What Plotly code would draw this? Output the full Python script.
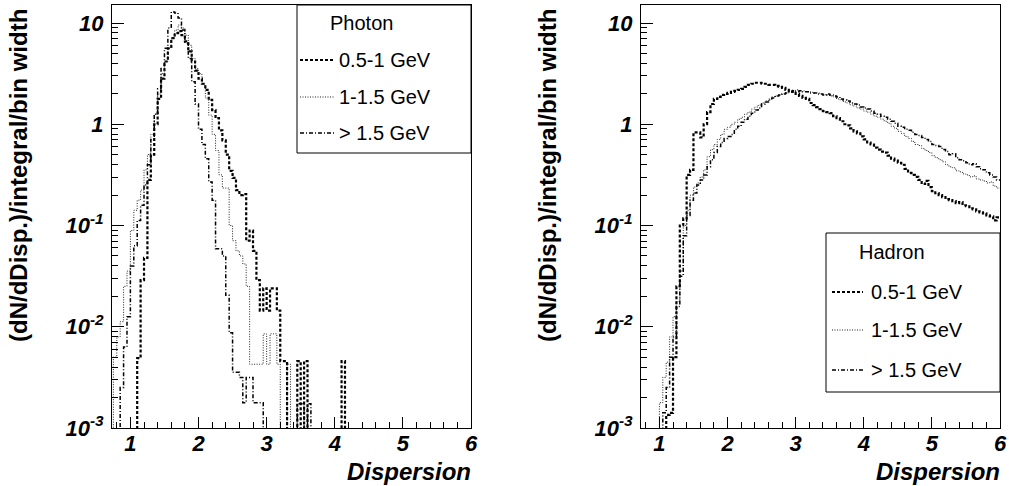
import numpy as np
import plotly.graph_objects as go

# ---------------- data ----------------
# Histograms with 0.05-wide bins; first bin low edge at 0.70.
# Values are log10(dN/dDisp./integral/bin width) per bin; None = empty bin.
bin_width = 0.05
first_edge = 0.70

series_names = ["0.5-1 GeV", "1-1.5 GeV", "> 1.5 GeV"]

photon_05_1_log = [
    None, None, None, None, None, None, None, None,
    -2.31, -1.54, -1.32, -0.55, -0.30, 0.00, 0.25, 0.45, 0.62, 0.75, 0.85, 0.90,
    0.92, 0.88, 0.82, 0.72, 0.62, 0.53, 0.45, 0.40, 0.34, 0.24, 0.14, 0.06,
    -0.06, -0.16, -0.30, -0.46, -0.53, -0.65, -0.70, -0.69, -1.15, -1.05, -1.25, -1.54,
    -1.84, -1.62, -1.84, -1.62, -1.62, -1.84, -2.34, -2.34,
    None, None, None, -2.34, None, -2.34, None, None, None, None, None, None, None, None,
    None, None, -2.34, None,
]
photon_1_15_log = [
    None, -2.30, -2.10, -1.95, -1.60, -1.45, -1.05, -0.85, -0.75, -0.65,
    -0.45, -0.30, -0.10, 0.10, 0.30, 0.50, 0.62, 0.75, 0.85, 0.93,
    0.98, 0.95, 0.88, 0.78, 0.65, 0.55, 0.50, 0.39, 0.26, 0.09,
    -0.10, -0.26, -0.50, -0.63, -0.63, -1.00, -1.15, -1.25, -1.30, -1.38,
    -1.60, -2.37, -2.37, -2.37, -2.37, -2.07, -2.37, -2.07, -2.07, -2.37,
    None, None, -2.37, None, None, None, None, None, None, None,
    None, None, None, None, None, None, None, None, None, None,
]
photon_15_log = [
    None, None, None, -2.60, -2.20, -1.90, -1.40, -1.20, -0.95, -0.80,
    -0.60, -0.40, -0.15, 0.10, 0.35, 0.55, 0.75, 0.95, 1.11, 1.10,
    1.05, 0.93, 0.80, 0.65, 0.42, 0.20, -0.05, -0.20, -0.34, -0.57,
    -0.75, -1.23, -1.23, -1.30, -1.69, -2.06, -2.45, -2.45, -2.50, -2.75,
    -2.50, -2.50, -2.75, -2.75, -2.75,
    None, None, None, None, None, None, None, None, None, None,
    -2.76, -2.76, None, -2.76,
    None, None, None, None, None, None, None, None, None, None, None,
]

hadron_05_1_log = [
    None, None, None, None, None, None, None, None,
    -2.87, -2.85, -2.30, -1.60, -1.00, -0.93, -0.50, -0.45, -0.08, -0.08, -0.13, 0.00,
    0.12, 0.20, 0.25, 0.27, 0.29, 0.30,
    0.31, 0.32, 0.33, 0.34, 0.35, 0.37, 0.39, 0.40, 0.41, 0.41,
    0.40, 0.40, 0.39, 0.39, 0.38, 0.37, 0.36, 0.34, 0.33, 0.32,
    0.30, 0.28, 0.26, 0.25, 0.21, 0.19, 0.17, 0.15, 0.13, 0.12,
    0.11, 0.08, 0.06, 0.03, 0.00, -0.01, -0.04, -0.07, -0.09, -0.12,
    -0.15, -0.18, -0.20, -0.23, -0.25, -0.27, -0.28, -0.31, -0.34, -0.36,
    -0.38, -0.40, -0.44, -0.48, -0.50, -0.52, -0.55, -0.59, -0.56, -0.62,
    -0.66, -0.68, -0.70, -0.72, -0.74, -0.75, -0.76, -0.78, -0.77, -0.80,
    -0.81, -0.83, -0.84, -0.86, -0.87, -0.88, -0.90, -0.91, -0.95, -0.92,
]
hadron_1_15_log = [
    None, None, None, None, None, None,
    -2.75, -2.50, -2.35, -2.10, -1.90, -1.75, -1.45, -1.00, -0.85, -0.70,
    -0.62, -0.58, -0.52, -0.45, -0.32, -0.25, -0.20, -0.15, -0.10, -0.05,
    -0.03, 0.00, 0.02, 0.05, 0.07, 0.10, 0.12, 0.15, 0.17, 0.19,
    0.21, 0.23, 0.25, 0.27, 0.28, 0.29, 0.30, 0.31, 0.32, 0.33,
    0.34, 0.33, 0.33, 0.32, 0.32, 0.31, 0.31, 0.30, 0.29, 0.29,
    0.28, 0.27, 0.25, 0.24, 0.22, 0.21, 0.19, 0.18, 0.16, 0.15,
    0.13, 0.12, 0.10, 0.08, 0.07, 0.05, 0.03, 0.01, -0.02, -0.04,
    -0.07, -0.09, -0.12, -0.14, -0.17, -0.20, -0.21, -0.24, -0.26, -0.28,
    -0.31, -0.33, -0.35, -0.37, -0.40, -0.42, -0.43, -0.46, -0.47, -0.49,
    -0.50, -0.52, -0.51, -0.54, -0.55, -0.56, -0.58, -0.57, -0.61, -0.63,
]
hadron_15_log = [
    None, None, None, None, None, None, None,
    -2.85, -2.60, -2.30, -2.10, -1.80, -1.50, -1.10, -0.90, -0.75,
    -0.68, -0.60, -0.55, -0.50, -0.42, -0.35, -0.28, -0.22, -0.18, -0.14,
    -0.12, -0.10, -0.05, -0.02, 0.02, 0.05, 0.08, 0.11, 0.14, 0.16,
    0.20, 0.22, 0.24, 0.26, 0.28, 0.29, 0.30, 0.31, 0.32, 0.33,
    0.32, 0.33, 0.32, 0.32, 0.31, 0.31, 0.30, 0.30, 0.29, 0.30,
    0.29, 0.28, 0.27, 0.25, 0.24, 0.23, 0.21, 0.20, 0.19, 0.17,
    0.16, 0.15, 0.13, 0.11, 0.10, 0.08, 0.07, 0.05, 0.03, 0.01,
    -0.02, -0.03, -0.05, -0.06, -0.08, -0.10, -0.11, -0.13, -0.15, -0.17,
    -0.20, -0.21, -0.22, -0.25, -0.27, -0.30, -0.29, -0.33, -0.35, -0.36,
    -0.38, -0.40, -0.39, -0.42, -0.44, -0.45, -0.48, -0.50, -0.52, -0.55,
]

y_tick_vals = [0.001, 0.01, 0.1, 1, 10]
y_tick_text = ["10<sup>-3</sup>", "10<sup>-2</sup>", "10<sup>-1</sup>", "1", "10"]
x_tick_vals = [1, 2, 3, 4, 5, 6]
x_tick_text = ["1", "2", "3", "4", "5", "6"]
x_title = "Dispersion"
y_title = "(dN/dDisp.)/integral/bin width"
legend_headers = ["Photon", "Hadron"]

# ---------------- styling ----------------
W, H = 1009, 486
FLOOR = 1e-6  # empty bins drawn below the visible range
styles = [
    dict(color="black", width=2.2, dash="3px,2px"),
    dict(color="#222222", width=1.0, dash="1px,1.5px"),
    dict(color="black", width=1.5, dash="4px,2px,1px,2px"),
]
FONT = "Liberation Sans, Arial, Helvetica, sans-serif"


def px(x):
    return x / W


def py(y):
    return 1 - y / H


def steps(logs):
    edges = first_edge + bin_width * np.arange(len(logs) + 1)
    vals = [10 ** v if v is not None else FLOOR for v in logs]
    return edges, vals + [vals[-1]]


fig = go.Figure()
panels = [
    ([photon_05_1_log, photon_1_15_log, photon_15_log], "x", "y"),
    ([hadron_05_1_log, hadron_1_15_log, hadron_15_log], "x2", "y2"),
]
for series, xa, ya in panels:
    for logs, st, name in zip(series, styles, series_names):
        xs, ys = steps(logs)
        fig.add_trace(go.Scatter(x=xs, y=ys, mode="lines", line_shape="hv",
                                 line=st, name=name, showlegend=False,
                                 xaxis=xa, yaxis=ya, hoverinfo="skip"))

frames = [(112, 471), (641, 1000)]
ytop, ybot = 5, 428
tickfont = dict(family=FONT, size=22, color="black", weight="bold", style="italic")
minor_y = [m * 10 ** e for e in range(-3, 2) for m in range(2, 10)]

for i, (l, r) in enumerate(frames):
    sx = "" if i == 0 else "2"
    fig.layout["xaxis" + sx] = dict(
        domain=[px(l), px(r)], range=[0.73, 6.0], anchor="y" + sx,
        showline=True, mirror=True, linecolor="black", linewidth=1,
        ticks="inside", ticklen=11, tickwidth=1, tickcolor="black",
        tickmode="array", tickvals=x_tick_vals, ticktext=x_tick_text,
        minor=dict(ticks="inside", ticklen=6, tickcolor="black", dtick=0.2, tick0=0),
        showgrid=False, zeroline=False, tickfont=tickfont, ticklabelstandoff=-4,
        automargin=False,
    )
    fig.layout["yaxis" + sx] = dict(
        domain=[py(ybot), py(ytop)], type="log", range=[-3, 1.178], anchor="x" + sx,
        showline=True, mirror=True, linecolor="black", linewidth=1,
        ticks="inside", ticklen=12, tickwidth=1, tickcolor="black",
        tickmode="array", tickvals=y_tick_vals, ticktext=y_tick_text,
        minor=dict(ticks="inside", ticklen=6, tickcolor="black", tickvals=minor_y),
        showgrid=False, zeroline=False, tickfont=tickfont, ticklabelstandoff=3,
        automargin=False,
    )

annotations = []
shapes = []
for i, (l, r) in enumerate(frames):
    # y title
    annotations.append(dict(xref="paper", yref="paper", x=px(l - 94), y=py(176),
                            text=y_title, textangle=-90, showarrow=False,
                            xanchor="center", yanchor="middle",
                            font=dict(family=FONT, size=24, color="black", weight="bold")))
    # x title
    annotations.append(dict(xref="paper", yref="paper", x=px(r + 1), y=0.0,
                            text=x_title, showarrow=False, xanchor="right", yanchor="bottom",
                            borderpad=0,
                            font=dict(family=FONT, size=24, color="black",
                                      weight="bold", style="italic")))

legend_boxes = [
    dict(x0=297, y0=5, x1=471, y1=153, head_x=328, head_y=23, rows=[60, 97, 133],
         s0=300, s1=334, tx=337),
    dict(x0=826, y0=233, x1=1000, y1=392, head_x=857, head_y=252, rows=[292, 330, 370],
         s0=832, s1=863, tx=869),
]
lfont = dict(family=FONT, size=20, color="black")
for lb, head in zip(legend_boxes, legend_headers):
    shapes.append(dict(type="rect", xref="paper", yref="paper",
                       x0=px(lb["x0"]), x1=px(lb["x1"]), y0=py(lb["y1"]), y1=py(lb["y0"]),
                       line=dict(color="black", width=1), fillcolor="white", layer="above"))
    annotations.append(dict(xref="paper", yref="paper", x=px(lb["head_x"]), y=py(lb["head_y"]),
                            text=head, showarrow=False, xanchor="left", yanchor="middle",
                            font=lfont))
    for yrow, st, name in zip(lb["rows"], styles, series_names):
        shapes.append(dict(type="line", xref="paper", yref="paper",
                           x0=px(lb["s0"]), x1=px(lb["s1"]), y0=py(yrow), y1=py(yrow),
                           line=st, layer="above"))
        annotations.append(dict(xref="paper", yref="paper", x=px(lb["tx"]), y=py(yrow),
                                text=name, showarrow=False, xanchor="left", yanchor="middle",
                                font=lfont))

fig.update_layout(width=W, height=H, margin=dict(l=0, r=0, t=0, b=0, pad=0),
                  autosize=False,
                  paper_bgcolor="white", plot_bgcolor="white",
                  annotations=annotations, shapes=shapes, showlegend=False)

fig.write_html("out.html")
